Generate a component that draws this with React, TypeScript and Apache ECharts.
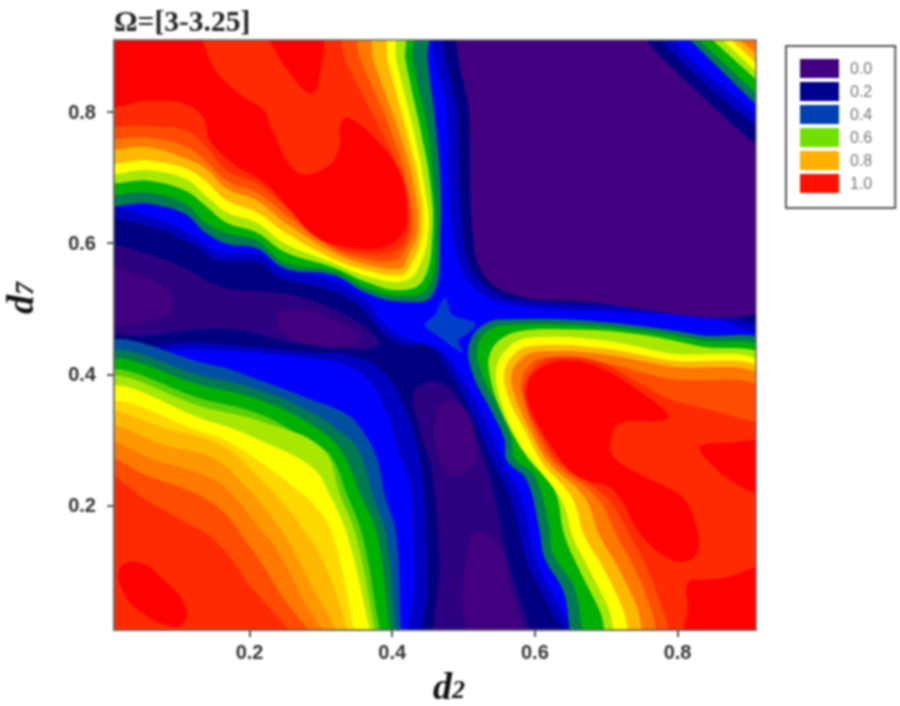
import React, { useEffect, useRef } from "react";
import * as echarts from "echarts";

// Contour outlines, as [d2, d7] in thousandths.
const pitTop0 = [[474,940],[478,788],[484,635],[498,559],[523,526],[565,507],[733,495],[832,489],[944,475],[944,762],[909,796],[832,867],[792,910],[761,940]];
const pitTop1 = [[488,940],[492,788],[498,635],[509,567],[534,533],[572,515],[733,504],[832,500],[944,489],[944,750],[909,779],[832,849],[775,910],[747,940]];
const pitTop2 = [[505,940],[509,788],[513,620],[527,555],[565,524],[640,513],[944,509],[944,719],[909,750],[832,826],[769,892],[726,940]];
const pitLow0 = [[-10,645],[60,640],[126,608],[154,587],[215,582],[239,562],[309,544],[362,513],[390,475],[425,452],[467,437],[495,399],[527,335],[555,265],[579,213],[603,112],[631,51],[656,-20],[436,-20],[432,86],[426,224],[407,292],[393,342],[370,388],[337,414],[290,425],[131,440],[-10,448]];
const pitLow1 = [[-10,626],[60,625],[126,594],[154,574],[215,570],[239,548],[309,529],[355,503],[379,472],[411,445],[453,442],[481,402],[513,335],[541,265],[565,213],[589,112],[617,51],[642,-20],[456,-20],[450,86],[445,224],[431,312],[421,342],[393,399],[346,429],[290,434],[131,449],[-10,457]];
const pitLeft = [[-10,590],[60,582],[117,556],[159,533],[215,526],[257,521],[313,501],[362,471],[380,445],[327,440],[257,450],[173,470],[-10,472]];
const pitBottom = [[432,376],[474,384],[509,323],[537,239],[561,117],[593,10],[604,-20],[471,-20],[467,117],[456,254],[439,315]];
const spot1 = [[-10,556],[60,544],[91,513],[74,486],[-10,486]];
const spot2 = [[243,495],[313,486],[352,452],[299,445],[250,462]];
const spot3 = [[464,346],[495,353],[516,300],[509,254],[474,254]];
const spot4 = [[509,147],[544,147],[565,71],[582,-20],[516,-20]];
const saddle = [[474,516],[484,490],[516,478],[509,465],[492,452],[498,434],[481,445],[463,460],[446,475],[460,490]];

const tlC = [[-10,669],[60,661],[110,645],[138,617],[168,600],[210,593],[250,562],[317,552],[365,524],[411,512],[456,521],[467,620],[467,696],[461,773],[449,879],[443,940],[-10,940]];
const tlD = [[-10,686],[60,678],[110,661],[138,632],[168,616],[210,605],[250,571],[317,558],[365,532],[411,520],[450,533],[461,620],[457,696],[449,773],[428,879],[422,940],[-10,940]];
const tlE = [[-10,703],[60,696],[110,681],[138,658],[168,632],[210,617],[250,587],[317,564],[365,541],[411,529],[443,544],[456,620],[452,696],[439,773],[418,879],[411,940],[-10,940]];
const tlF = [[-10,716],[60,712],[110,699],[138,674],[168,648],[210,632],[250,600],[317,571],[365,550],[411,542],[433,556],[450,620],[443,696],[429,773],[405,879],[394,940],[-10,940]];
const tlG = [[-10,733],[60,727],[110,715],[138,696],[168,666],[210,648],[250,617],[317,577],[365,559],[411,552],[425,565],[442,620],[436,696],[419,773],[393,879],[380,940],[-10,940]];
const tlH = [[-10,754],[60,747],[110,730],[138,715],[168,684],[210,666],[250,632],[317,587],[365,568],[411,562],[419,574],[435,620],[428,696],[408,773],[373,879],[358,940],[-10,940]];
const tlI = [[-10,771],[60,762],[110,748],[138,727],[168,696],[210,678],[250,645],[317,593],[365,576],[404,574],[415,587],[428,620],[419,696],[397,773],[355,879],[334,940],[-10,940]];
const tlJ = [[-10,791],[60,780],[110,773],[138,750],[168,712],[210,692],[250,657],[317,597],[365,584],[400,587],[418,605],[422,646],[414,696],[383,773],[334,879],[313,940],[-10,940]];
const tlK1 = [[-10,940],[110,940],[154,860],[191,823],[219,803],[229,777],[267,707],[309,716],[327,747],[327,777],[337,791],[373,762],[411,707],[421,646],[415,616],[387,594],[341,594],[295,609],[257,651],[233,681],[210,701],[177,722],[145,757],[135,793],[107,814],[60,818],[-10,814]];
const tlK2 = [[219,940],[295,940],[295,838],[281,831],[257,860],[236,895]];

const blC0 = [[-10,434],[146,414],[220,388],[286,361],[337,338],[362,307],[379,269],[389,216],[405,155],[412,10],[417,-20],[-10,-20]];
const blC = [[-10,420],[146,394],[220,373],[290,339],[327,312],[352,285],[372,216],[391,155],[405,10],[408,-20],[-10,-20]];
const blD = [[-10,407],[146,379],[220,358],[286,323],[327,285],[355,216],[379,152],[396,10],[400,-20],[-10,-20]];
const blD2 = [[-10,391],[146,358],[220,336],[278,300],[312,277],[336,216],[358,152],[382,10],[389,-20],[-10,-20]];
const blE = [[-10,382],[146,346],[220,326],[302,286],[326,216],[349,152],[375,10],[380,-20],[-10,-20]];
const blF = [[-10,368],[146,327],[220,296],[288,257],[312,216],[337,152],[368,10],[373,-20],[-10,-20]];
const blG1 = [[-10,344],[146,307],[182,289],[230,254],[262,227],[290,201],[316,155],[346,10],[352,-20],[-10,-20]];
const blG = [[-10,332],[89,315],[164,289],[210,246],[248,201],[275,163],[302,117],[337,10],[341,-20],[-10,-20]];
const blH0 = [[-10,311],[89,289],[150,271],[192,231],[225,190],[257,140],[290,71],[320,10],[327,-20],[-10,-20]];
const blH = [[-10,289],[74,266],[150,239],[178,213],[210,170],[236,135],[271,63],[302,-20],[-10,-20]];
const blI = [[-10,266],[60,243],[150,201],[201,135],[239,71],[285,-20],[-10,-20]];
const blJ = [[-10,246],[60,204],[103,178],[150,147],[194,86],[257,-20],[-10,-20]];
const blK = [[18,102],[46,112],[79,86],[107,51],[107,21],[84,18],[51,36],[28,60]];

const brC = [[930,436],[827,460],[733,475],[640,483],[569,483],[533,478],[509,448],[513,402],[541,341],[558,300],[561,269],[589,239],[607,163],[614,121],[640,71],[669,-20],[930,-20]];
const brD = [[930,425],[827,452],[733,468],[640,475],[572,475],[537,468],[520,442],[526,402],[551,346],[568,300],[572,272],[600,246],[621,167],[625,129],[654,79],[689,-20],[930,-20]];
const brE = [[930,413],[827,443],[733,462],[640,468],[579,465],[551,452],[537,429],[537,402],[547,361],[572,304],[593,269],[628,224],[642,155],[663,102],[691,41],[715,-20],[930,-20]];
const brF = [[930,399],[780,433],[687,452],[593,455],[565,442],[547,410],[554,356],[579,295],[607,254],[640,204],[654,152],[677,102],[701,51],[731,-20],[930,-20]];
const brG = [[930,390],[780,422],[687,440],[600,443],[575,434],[558,404],[565,361],[588,312],[611,265],[652,213],[670,155],[698,102],[722,48],[750,-20],[930,-20]];
const brH = [[930,379],[780,413],[687,431],[607,434],[583,425],[568,399],[575,361],[595,312],[620,265],[670,213],[691,155],[719,102],[743,48],[768,-20],[930,-20]];
const brI = [[930,361],[780,394],[687,419],[614,425],[593,414],[582,391],[586,358],[602,312],[628,265],[687,213],[715,155],[745,94],[764,41],[787,-20],[930,-20]];
const brJ = [[930,320],[909,326],[832,349],[790,361],[743,388],[696,416],[649,426],[611,419],[586,384],[589,353],[607,312],[635,265],[701,213],[733,155],[759,102],[783,33],[804,-20],[930,-20]];
const brKA = [[597,341],[590,384],[611,411],[649,420],[696,407],[743,376],[787,338],[780,330],[719,326],[705,295],[710,274],[743,249],[790,224],[813,204],[829,147],[822,121],[794,117],[752,152],[710,224],[663,243],[640,265]];
const brKB = [[832,289],[874,295],[930,292],[930,213],[909,219],[874,239],[846,265]];
const brKC = [[815,82],[841,86],[874,91],[909,105],[930,109],[930,-20],[811,-20],[815,41]];

const trC = [[790,940],[930,791],[930,940]];
const trD = [[802,940],[930,809],[930,940]];
const trE = [[819,940],[930,831],[930,940]];
const trF = [[834,940],[930,843],[930,940]];
const trG = [[847,940],[930,855],[930,940]];
const trH = [[853,940],[930,873],[930,940]];
const trI = [[876,940],[930,883],[930,940]];

const tickValues = [0.2, 0.4, 0.6, 0.8];
const legendLabels = ["0.0", "0.2", "0.4", "0.6", "0.8", "1.0"];
const legendColors = ["#400080", "#000090", "#0040b0", "#70e000", "#ffb000", "#ff1000"];

const PURPLE = "#400080", DEEP = "#2c0080", NAVY = "#000080", MID = "#0000c0", STEEL = "#0050a0", SOFT = "#0040c8";
const TEAL = "#007a50", GREEN = "#00b000", GRASS = "#5cd000", LIME = "#a8e800", YELLOW = "#ffff00", AMBER = "#ffd800";
const GOLD = "#ffb800", ORANGE0 = "#ff9800", ORANGE = "#ff7800", VERMIL = "#ff4c00", SCARLET = "#ff2a00", RED = "#ff0000";

const bands: [number[][], string, number][] = [
  [pitTop0, MID, 0.4], [pitTop1, NAVY, 0.4], [pitTop2, PURPLE, 0.4],
  [pitLow0, MID, 0.4], [pitLow1, NAVY, 0.4], [pitLeft, DEEP, 0.4], [pitBottom, DEEP, 0.4],
  [spot1, PURPLE, 0.5], [spot2, PURPLE, 0.5], [spot3, PURPLE, 0.5], [spot4, PURPLE, 0.5],
  [saddle, SOFT, 0.3],
  [tlC, TEAL, 0.4], [tlD, GREEN, 0.4], [tlE, LIME, 0.4], [tlF, YELLOW, 0.4], [tlG, GOLD, 0.4], [tlH, ORANGE, 0.4], [tlI, VERMIL, 0.4], [tlJ, SCARLET, 0.4], [tlK1, RED, 0.4], [tlK2, RED, 0.4],
  [blC0, STEEL, 0.4], [blC, TEAL, 0.4], [blD, GREEN, 0.4], [blD2, GRASS, 0.4], [blE, LIME, 0.4], [blF, YELLOW, 0.4], [blG1, AMBER, 0.4], [blG, GOLD, 0.4], [blH0, ORANGE0, 0.4], [blH, ORANGE, 0.4], [blI, VERMIL, 0.4], [blJ, SCARLET, 0.4], [blK, RED, 0.5],
  [brC, TEAL, 0.4], [brD, GREEN, 0.4], [brE, LIME, 0.4], [brF, YELLOW, 0.4], [brG, GOLD, 0.4], [brH, ORANGE, 0.4], [brI, VERMIL, 0.4], [brJ, SCARLET, 0.4], [brKA, RED, 0.4], [brKB, RED, 0.4], [brKC, RED, 0.4],
  [trC, TEAL, 0], [trD, GREEN, 0], [trE, LIME, 0], [trF, YELLOW, 0], [trG, GOLD, 0], [trH, ORANGE, 0], [trI, VERMIL, 0],
];

export default function App() {
  const ref = useRef<HTMLDivElement>(null);
  useEffect(() => {
    const chart = echarts.init(ref.current!, undefined, { renderer: "svg" });
    const axisBase = {
      type: "value" as const,
      min: 0.01,
      max: 0.91,
      splitLine: { show: false },
      axisLine: { show: true, onZero: false, lineStyle: { color: "#666", width: 2 } },
      axisTick: { show: true, customValues: tickValues, length: 7, lineStyle: { color: "#555", width: 2 } },
    };
    const labelStyle = {
      customValues: tickValues,
      formatter: (v: number) => v.toFixed(1),
      fontFamily: "Liberation Sans",
      fontWeight: "bold" as const,
      fontSize: 20,
      color: "#333",
    };
    const nameRich = {
      d: { fontFamily: "Liberation Serif", fontStyle: "italic" as const, fontWeight: "bold" as const, fontSize: 38, lineHeight: 36, color: "#111" },
      s: { fontFamily: "Liberation Serif", fontStyle: "italic" as const, fontWeight: "bold" as const, fontSize: 26, lineHeight: 36, color: "#111", padding: [8, 0, 0, 0] },
    };
    chart.setOption({
      animation: false,
      backgroundColor: "#fff",
      title: {
        text: "Ω=[3-3.25]",
        left: 114,
        top: 6,
        padding: 0,
        textStyle: { fontFamily: "Liberation Serif", fontWeight: "bold", fontSize: 29.5, color: "#222" },
      },
      grid: { left: 114, right: 144, top: 40, bottom: 76, show: true, backgroundColor: "#0000ff", borderWidth: 0, outerBoundsMode: "none" },
      xAxis: {
        ...axisBase,
        name: "{d|d}{s|2}",
        nameLocation: "middle",
        nameGap: 31,
        nameTextStyle: { rich: nameRich, padding: [0, 0, 0, 28] },
        axisLabel: { ...labelStyle, margin: 12 },
      },
      yAxis: {
        ...axisBase,
        name: "{d|d}{s|7}",
        nameLocation: "middle",
        nameGap: 76,
        nameTextStyle: { rich: nameRich, padding: [0, 0, 0, 74] },
        axisLabel: { ...labelStyle, margin: 18 },
      },
      legend: {
        orient: "vertical",
        left: 786,
        top: 46,
        padding: [13, 23, 15, 14],
        itemWidth: 39,
        itemHeight: 19,
        itemGap: 4,
        icon: "rect",
        borderColor: "#555",
        borderWidth: 2,
        backgroundColor: "#fff",
        data: legendLabels,
        textStyle: { fontFamily: "Liberation Sans", fontSize: 16, color: "#777", padding: [0, 0, 0, 6] },
      },
      series: [
        {
          type: "custom",
          clip: true,
          silent: true,
          data: bands.map((_, i) => [i]),
          renderItem: (_p: unknown, api: any) => {
            const [outline, fill, smooth] = bands[api.value(0)];
            return {
              type: "polygon",
              shape: { points: outline.map(([a, b]) => api.coord([a / 1000, b / 1000])), smooth },
              style: { fill, stroke: fill, lineWidth: 1 },
            };
          },
        },
        ...legendLabels.map((name, i) => ({
          type: "scatter" as const,
          name,
          data: [],
          itemStyle: { color: legendColors[i], opacity: 1 },
        })),
      ],
      graphic: [
        {
          type: "rect",
          z: 50,
          silent: true,
          shape: { x: 114, y: 40, width: 642, height: 590 },
          style: { fill: "none", stroke: "#666", lineWidth: 1.5 },
        },
      ],
    });
    return () => chart.dispose();
  }, []);
  return (
    <div
      ref={ref}
      style={{ position: "absolute", left: 0, top: 0, width: 900, height: 706, filter: "blur(1px)" }}
    />
  );
}
